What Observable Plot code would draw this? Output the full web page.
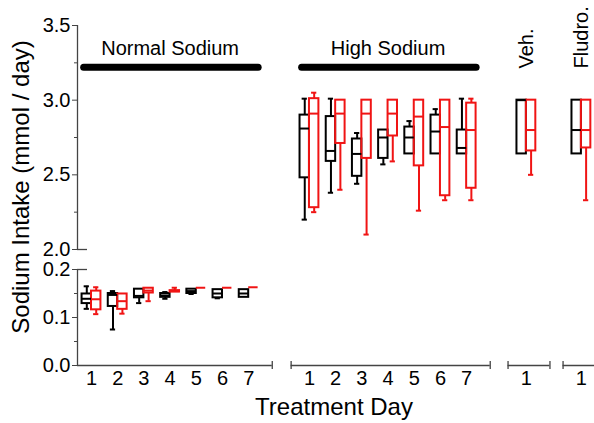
<!DOCTYPE html>
<html>
<head>
<meta charset="utf-8">
<script src="https://cdn.jsdelivr.net/npm/d3@7"></script>
<script src="https://cdn.jsdelivr.net/npm/@observablehq/plot@0.6"></script>
<style>
  html, body { margin: 0; padding: 0; background: #fff; }
  #chart { position: relative; width: 594px; height: 423px; overflow: hidden; font-family: 'Liberation Sans', Arial, sans-serif; }
  #chart svg { position: absolute; left: 0; }
  .ytitle { position: absolute; width: 400px; left: -179px; top: 174px; height: 26px; line-height: 26px; text-align: center; font-size: 24px; transform: rotate(-90deg); transform-origin: center; white-space: nowrap; }
  .xtitle { position: absolute; width: 300px; left: 184px; top: 394px; height: 26px; line-height: 26px; text-align: center; font-size: 24px; white-space: nowrap; }
</style>
</head>
<body>
<div id="chart">
  <div class="ytitle">Sodium Intake (mmol / day)</div>
  <div class="xtitle">Treatment Day</div>
</div>
<script>
// ---- data ----
const groupNames = ["Normal Sodium", "High Sodium", "Veh.", "Fludro."];
const groupDays = [7, 7, 1, 1];
const seriesNames = ["Group A", "Group B"]; // black, red

// box stats: [min, q1, median, q3, max]
const blackNormal = [
  [0.118, 0.129, 0.139, 0.149, 0.165],
  [0.075, 0.123, 0.147, 0.150, 0.155],
  [0.130, 0.141, 0.145, 0.159, 0.159],
  [0.139, 0.142, 0.146, 0.150, 0.153],
  [0.149, 0.150, 0.155, 0.159, 0.159],
  [0.140, 0.141, 0.150, 0.158, 0.158],
  [0.142, 0.142, 0.150, 0.158, 0.158]
];
const redNormal = [
  [0.107, 0.116, 0.138, 0.155, 0.163],
  [0.108, 0.117, 0.134, 0.149, 0.149],
  [0.134, 0.151, 0.156, 0.161, 0.161],
  [0.153, 0.153, 0.155, 0.156, 0.162],
  [0.162, 0.162, 0.162, 0.162, 0.162],
  [0.162, 0.162, 0.162, 0.162, 0.162],
  [0.163, 0.163, 0.163, 0.163, 0.163]
];
const blackHigh = [
  [2.20, 2.48, 2.81, 2.90, 3.01],
  [2.38, 2.59, 2.66, 2.89, 3.01],
  [2.44, 2.49, 2.64, 2.74, 2.78],
  [2.57, 2.61, 2.75, 2.80, 2.80],
  [2.64, 2.64, 2.75, 2.82, 2.86],
  [2.64, 2.64, 2.79, 2.90, 2.94],
  [2.64, 2.64, 2.68, 2.80, 3.01]
];
const redHigh = [
  [2.25, 2.28, 2.91, 3.01, 3.05],
  [2.40, 2.71, 2.91, 3.00, 3.00],
  [2.10, 2.61, 2.91, 3.00, 3.00],
  [2.59, 2.76, 2.91, 3.00, 3.00],
  [2.26, 2.56, 2.89, 3.00, 3.00],
  [2.33, 2.36, 2.82, 3.00, 3.00],
  [2.33, 2.41, 2.80, 2.98, 3.01]
];
const blackVeh = [[2.64, 2.64, 3.00, 3.00, 3.00]];
const redVeh = [[2.50, 2.66, 2.80, 3.00, 3.00]];
const blackFludro = [[2.64, 2.64, 2.80, 3.00, 3.00]];
const redFludro = [[2.33, 2.68, 2.80, 3.00, 3.00]];

const upperTicks = [2.0, 2.5, 3.0, 3.5];
const upperMinor = [2.25, 2.75, 3.25];
const lowerTicks = [0.0, 0.1, 0.2];
const lowerMinor = [0.05, 0.15];

// ---- layout (not data) ----
const groupFirstX = [1, 9.32, 17.6, 19.7];
const W = 594, ML = 77;
const xDomain = [0.4656, 20.2];
const u = (xDomain[1] - xDomain[0]) / (W - ML); // x units per pixel
const X0 = xDomain[0];
const BOXW = 0.36, CAPW = 0.1;
const RED = "#f01414", AXIS = "#444";

const statsBySeries = [
  [blackNormal, blackHigh, blackVeh, blackFludro],
  [redNormal, redHigh, redVeh, redFludro]
];

const rows = [];
statsBySeries.forEach((groups, s) => {
  groups.forEach((arr, g) => {
    arr.forEach((st, i) => {
      const x = groupFirstX[g] + i;
      const x1 = s === 0 ? x - BOXW : x;
      const x2 = s === 0 ? x : x + BOXW;
      rows.push({series: seriesNames[s], group: groupNames[g], day: i + 1, x, x1, x2, c: (x1 + x2) / 2,
        min: st[0], q1: st[1], med: st[2], q3: st[3], max: st[4]});
    });
  });
});
const groupInfo = groupNames.map((name, g) => ({
  name, first: groupFirstX[g], last: groupFirstX[g] + groupDays[g] - 1,
  mid: groupFirstX[g] + (groupDays[g] - 1) / 2
}));
const dayRows = groupInfo.flatMap(gi => d3.range(gi.last - gi.first + 1).map(i => ({x: gi.first + i, day: String(i + 1)})));

const color = {domain: seriesNames, range: ["#000", RED]};

function boxMarks(data) {
  const sw = 2;
  return [
    Plot.ruleX(data.filter(r => r.max > r.q3), {x: "c", y1: "q3", y2: "max", stroke: "series", strokeWidth: sw}),
    Plot.ruleX(data.filter(r => r.min < r.q1), {x: "c", y1: "min", y2: "q1", stroke: "series", strokeWidth: sw}),
    Plot.ruleY(data.filter(r => r.max > r.q3), {y: "max", x1: r => r.c - CAPW, x2: r => r.c + CAPW, stroke: "series", strokeWidth: sw}),
    Plot.ruleY(data.filter(r => r.min < r.q1), {y: "min", x1: r => r.c - CAPW, x2: r => r.c + CAPW, stroke: "series", strokeWidth: sw}),
    Plot.rect(data.filter(r => r.q3 > r.q1), {x1: "x1", x2: "x2", y1: "q1", y2: "q3", fill: "none", stroke: "series", strokeWidth: sw}),
    Plot.ruleY(data, {y: "med", x1: "x1", x2: "x2", stroke: "series", strokeWidth: sw})
  ];
}

const style = {fontFamily: "'Liberation Sans', Arial, sans-serif", fontSize: "20px", color: "#000", background: "transparent", overflow: "visible"};

const upperRows = rows.filter(r => r.max >= 1);
const lowerRows = rows.filter(r => r.max < 1);

const upper = Plot.plot({
  width: W, height: 255, marginLeft: ML, marginRight: 0, marginTop: 25, marginBottom: 6,
  x: {domain: xDomain, axis: null},
  y: {domain: [2, 3.5]},
  color, style,
  marks: [
    Plot.ruleX([X0], {y1: 2, y2: 3.5, stroke: AXIS, strokeWidth: 1.3}),
    Plot.axisY({ticks: upperTicks, tickFormat: d => d.toFixed(1), tickSize: 5, tickPadding: 2, label: null, stroke: AXIS, fontSize: 20}),
    Plot.axisY({ticks: upperMinor, tickFormat: () => "", tickSize: 3, label: null, stroke: AXIS}),
    Plot.ruleY([2.0], {x1: X0, x2: X0 + 10 * u, stroke: AXIS, strokeWidth: 1.3}),
    Plot.ruleY(groupInfo.filter(g => g.last > g.first), {y: () => 3.22, x1: g => g.first - 0.28, x2: g => g.last + 0.38, stroke: "#000", strokeWidth: 7, strokeLinecap: "round"}),
    Plot.text(groupInfo.filter(g => g.last > g.first), {x: "mid", text: "name", frameAnchor: "top", lineAnchor: "middle", dy: 23, fontSize: 20}),
    Plot.text(groupInfo.filter(g => g.last === g.first), {x: "mid", text: "name", frameAnchor: "top", lineAnchor: "middle", dy: 43, rotate: -90, textAnchor: "start", fontSize: 20}),
    ...boxMarks(upperRows)
  ]
});

const segs = groupInfo.map((g, i) => ({a: i === 0 ? X0 : g.first - 0.7, b: g.last + 0.9}));
const segEnds = segs.flatMap((s, i) => i === 0 ? [s.b] : [s.a, s.b]);

const lower = Plot.plot({
  width: W, height: 168, marginLeft: ML, marginRight: 0, marginTop: 14, marginBottom: 58,
  x: {domain: xDomain, axis: null},
  y: {domain: [0, 0.2]},
  color, style,
  marks: [
    Plot.ruleX([X0], {y1: 0, y2: 0.2, stroke: AXIS, strokeWidth: 1.3}),
    Plot.axisY({ticks: lowerTicks, tickFormat: d => d.toFixed(1), tickSize: 5, tickPadding: 2, label: null, stroke: AXIS, fontSize: 20}),
    Plot.axisY({ticks: lowerMinor, tickFormat: () => "", tickSize: 3, label: null, stroke: AXIS}),
    Plot.ruleY([0.2], {x1: X0, x2: X0 + 10 * u, stroke: AXIS, strokeWidth: 1.3}),
    Plot.ruleY(segs, {y: () => 0, x1: "a", x2: "b", stroke: AXIS, strokeWidth: 1.3}),
    Plot.ruleX(segEnds, {x: d => d, y1: -0.0085, y2: 0.0085, stroke: AXIS, strokeWidth: 1.3}),
    Plot.text(dayRows, {x: "x", text: "day", frameAnchor: "bottom", lineAnchor: "middle", dy: 13, fontSize: 20}),
    ...boxMarks(lowerRows)
  ]
});

upper.style.top = "0px";
lower.style.top = "255px";
const chart = document.getElementById("chart");
chart.appendChild(upper);
chart.appendChild(lower);
</script>
</body>
</html>
